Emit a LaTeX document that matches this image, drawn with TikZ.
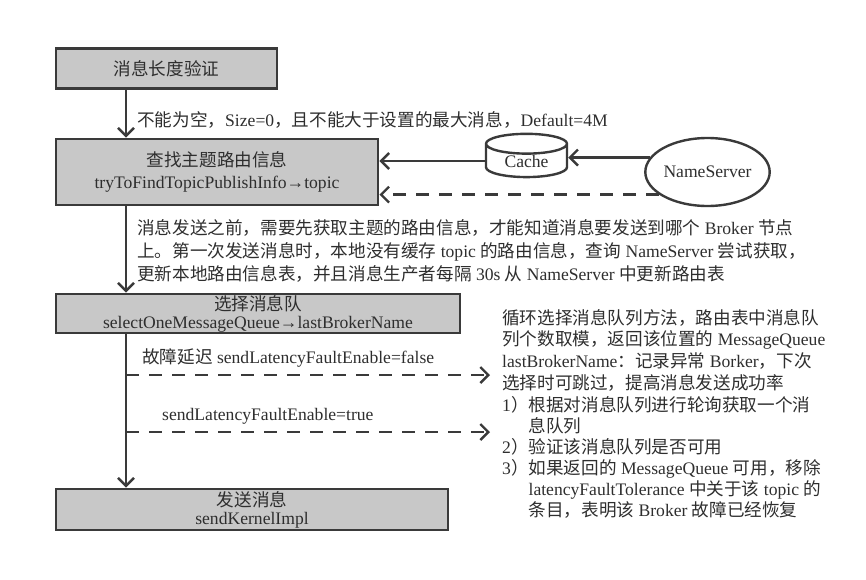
\documentclass[tikz,border=0pt]{standalone}
\usepackage{fontspec}
\setmainfont{Liberation Serif}
\newfontfamily\zh{Noto Sans CJK SC}
\usetikzlibrary{arrows.meta,shapes.geometric}

% Chinese characters switch to the CJK font by themselves
\XeTeXinterchartokenstate=1
\newXeTeXintercharclass\zhclass
\count255="3000
\loop\ifnum\count255<"3040 \XeTeXcharclass\count255=\zhclass \advance\count255 by 1 \repeat
\count255="4E00
\loop\ifnum\count255<"A000 \XeTeXcharclass\count255=\zhclass \advance\count255 by 1 \repeat
\count255="FF00
\loop\ifnum\count255<"FFF0 \XeTeXcharclass\count255=\zhclass \advance\count255 by 1 \repeat
\XeTeXinterchartoks 0 \zhclass = {\begingroup\zh}
\XeTeXinterchartoks 4095 \zhclass = {\begingroup\zh}
\XeTeXinterchartoks \zhclass 0 = {\endgroup}
\XeTeXinterchartoks \zhclass 4095 = {\endgroup}

\definecolor{inkgray}{HTML}{2E2E2E}
\definecolor{linegray}{HTML}{3A3A3A}
\definecolor{boxfill}{HTML}{C8C8C8}

\begin{document}
\begin{tikzpicture}[x=1pt,y=-1pt,
    font=\fontsize{17.6}{22}\selectfont, text=inkgray,
    stepbox/.style={draw=linegray, line width=2.8pt, fill=boxfill, align=center, inner sep=0pt},
    flow/.style={draw=linegray, line width=2.4pt, -{Straight Barb[length=8pt,width=16pt]}},
    lookup/.style={flow, dash pattern=on 13pt off 10pt},
    note/.style={inner sep=0pt, align=left}]
  \useasboundingbox (0,0) rectangle (866,579);

  % main steps
  \node[stepbox, minimum width=221pt, minimum height=40pt] (lencheck) at (166.5,68.5) {消息长度验证};
  \node[stepbox, minimum width=322pt, minimum height=66pt] (findroute) at (217,172)
    {查找主题路由信息\\tryToFindTopicPublishInfo→topic};
  \node[stepbox, minimum width=404pt, minimum height=39pt,
    font=\fontsize{17.6}{18}\selectfont] (selectq) at (258,313.5)
    {选择消息队\\selectOneMessageQueue→lastBrokerName};
  \node[stepbox, minimum width=392pt, minimum height=41pt,
    font=\fontsize{17.6}{18}\selectfont] (sendmsg) at (252,509.5)
    {发送消息\\sendKernelImpl};

  % route sources
  \node[cylinder, shape border rotate=90, aspect=0.45, draw=linegray, line width=2.4pt,
    minimum height=37pt, minimum width=81pt, inner sep=0pt] (cache) at (526.5,161) {Cache};
  \node[ellipse, draw=linegray, line width=2.4pt, minimum width=119pt, minimum height=68pt,
    inner sep=0pt] (nameserver) at (707.5,172) {NameServer};

  \coordinate (spine) at (126,0);
  \coordinate (faultoff) at (490,375);
  \coordinate (faulton) at (490,432);

  \draw[flow] (lencheck.south -| spine) -- (findroute.north -| spine);
  \draw[flow] (findroute.south -| spine) -- (selectq.north -| spine);
  \draw[flow] (selectq.south -| spine) -- (sendmsg.north -| spine);
  \draw[flow] (nameserver.166) -- (nameserver.166 -| cache.east);
  \draw[flow] (cache.west) -- (cache.west -| findroute.east);
  \draw[lookup] (nameserver.205) -- (nameserver.205 -| findroute.east);
  \draw[lookup] (faultoff -| spine) -- (faultoff);
  \draw[lookup] (faulton -| spine) -- (faulton);

  % labels
  \node[note, anchor=west] (lenrule) at (137,120) {不能为空，Size=0，且不能大于设置的最大消息，Default=4M};
  \node[note, anchor=north west, font=\fontsize{17.6}{23}\selectfont] (routeinfo) at (137,219)
    {消息发送之前，需要先获取主题的路由信息，才能知道消息要发送到哪个 Broker 节点\\
     上。第一次发送消息时，本地没有缓存 topic 的路由信息，查询 NameServer 尝试获取，\\
     更新本地路由信息表，并且消息生产者每隔 30s 从 NameServer 中更新路由表};
  \node[note, anchor=west] (offlabel) at (142,358) {故障延迟 sendLatencyFaultEnable=false};
  \node[note, anchor=west] (onlabel) at (162,416) {sendLatencyFaultEnable=true};

  \node[note, anchor=north west, font=\fontsize{17.6}{21.7}\selectfont] (qdesc) at (502,309)
    {循环选择消息队列方法，路由表中消息队\\
     列个数取模，返回该位置的 MessageQueue\\
     lastBrokerName：记录异常 Borker，下次\\
     选择时可跳过，提高消息发送成功率};
  \node[note, anchor=north west, font=\fontsize{17.6}{21}\selectfont] (qsteps) at (502,396)
    {1）根据对消息队列进行轮询获取一个消\\
     \hspace*{1.5em}息队列\\
     2）验证该消息队列是否可用\\
     3）如果返回的 MessageQueue 可用，移除\\
     \hspace*{1.5em}latencyFaultTolerance 中关于该 topic 的\\
     \hspace*{1.5em}条目，表明该 Broker 故障已经恢复};
\end{tikzpicture}
\end{document}
